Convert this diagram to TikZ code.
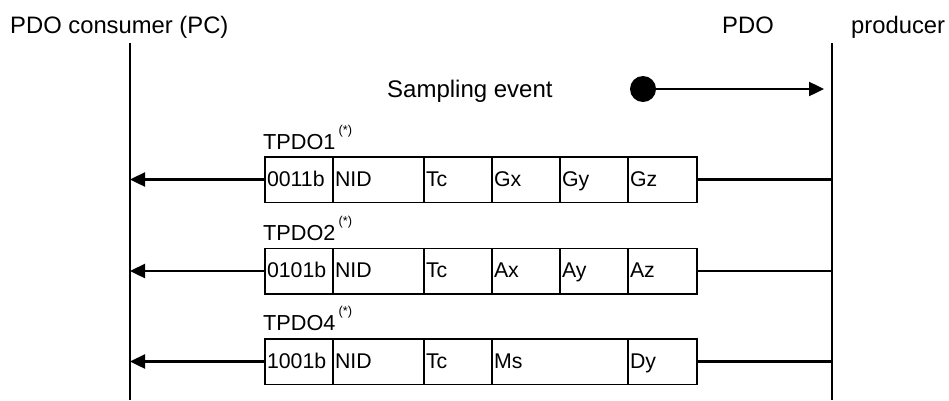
\documentclass[tikz,border=0pt]{standalone}
\usepackage{fontspec}
\setmainfont{Liberation Sans}
\usetikzlibrary{arrows.meta}
\newcommand{\supstar}{\hspace{3pt}\raisebox{14.7pt}{\fontsize{12.8}{13}\selectfont(*)}}
\begin{document}
\begin{tikzpicture}[x=1pt,y=-1pt,
  life/.style={line width=1.5pt},
  cell/.style={draw, line width=1.5pt, rectangle, minimum height=45.5pt, inner xsep=2pt, inner ysep=0pt, outer sep=0pt, text height=16pt, text depth=3pt, align=left, font=\fontsize{21.3}{24}\selectfont, anchor=west},
  msg/.style={line width=2.4pt, -{Triangle[length=15pt,width=14pt]}},
  plain/.style={line width=2.4pt},
  head/.style={anchor=base west, inner sep=0pt, font=\fontsize{23.8}{28}\selectfont},
  lbl/.style={anchor=base west, inner sep=0pt, font=\fontsize{21.7}{26}\selectfont}]
\useasboundingbox (0,0) rectangle (949,400);

% headings
\node[head] (hpc) at (10,33) {PDO consumer (PC)};
\node[head] (hpdo) at (722,33) {PDO};
\node[head] (hprod) at (851,33) {producer};

% lifelines
\coordinate (Ltop) at (130,43);
\coordinate (Lbot) at (130,400);
\coordinate (Rtop) at (832,43);
\coordinate (Rbot) at (832,400);
\draw[life] (Ltop) -- (Lbot);
\draw[life] (Rtop) -- (Rbot);

% sampling event
\node[anchor=base west, inner sep=0pt, font=\fontsize{24}{28}\selectfont] (samp) at (387,97) {Sampling event};
\node[circle, fill=black, minimum size=26pt, inner sep=0pt] (ev) at (643,89) {};
\draw[msg, shorten >=8pt] (ev.center) -- (ev -| Rtop);

% TPDO1
\node[lbl] (t1) at (263,149) {TPDO1\supstar};
\node[cell, text width=64pt] (a1) at (265,179.5) {0011b};
\node[cell, text width=87pt] (a2) at (a1.east) {NID};
\node[cell, text width=64pt] (a3) at (a2.east) {Tc};
\node[cell, text width=64pt] (a4) at (a3.east) {Gx};
\node[cell, text width=64pt] (a5) at (a4.east) {Gy};
\node[cell, text width=65pt] (a6) at (a5.east) {Gz};
\draw[msg] (a1.west) -- (a1.west -| Ltop);
\draw[plain] (a6.east) -- (a6.east -| Rtop);

% TPDO2
\node[lbl] (t2) at (263,240) {TPDO2\supstar};
\node[cell, text width=64pt] (b1) at (265,271) {0101b};
\node[cell, text width=87pt] (b2) at (b1.east) {NID};
\node[cell, text width=64pt] (b3) at (b2.east) {Tc};
\node[cell, text width=64pt] (b4) at (b3.east) {Ax};
\node[cell, text width=64pt] (b5) at (b4.east) {Ay};
\node[cell, text width=65pt] (b6) at (b5.east) {Az};
\draw[msg] (b1.west) -- (b1.west -| Ltop);
\draw[plain] (b6.east) -- (b6.east -| Rtop);

% TPDO4
\node[lbl] (t4) at (263,330) {TPDO4\supstar};
\node[cell, text width=64pt] (c1) at (265,361.5) {1001b};
\node[cell, text width=87pt] (c2) at (c1.east) {NID};
\node[cell, text width=64pt] (c3) at (c2.east) {Tc};
\node[cell, text width=132pt] (c4) at (c3.east) {Ms};
\node[cell, text width=65pt] (c5) at (c4.east) {Dy};
\draw[msg] (c1.west) -- (c1.west -| Ltop);
\draw[plain] (c5.east) -- (c5.east -| Rtop);
\end{tikzpicture}
\end{document}
